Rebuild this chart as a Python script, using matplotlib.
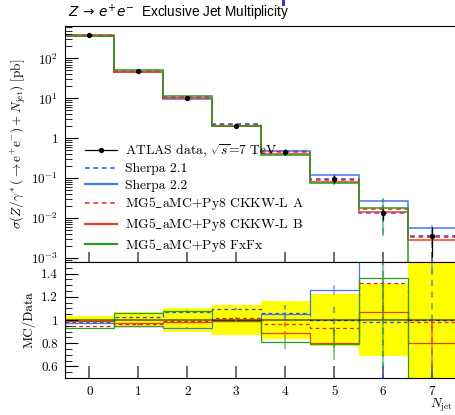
import numpy as np
import matplotlib
matplotlib.use('Agg')
import matplotlib.pyplot as plt
from matplotlib.lines import Line2D

plt.rcParams['font.family'] = ['cmr10', 'DejaVu Serif']
plt.rcParams['mathtext.fontset'] = 'cm'
plt.rcParams['axes.formatter.use_mathtext'] = True
plt.rcParams['axes.unicode_minus'] = False

# bins of exclusive jet multiplicity
edges = np.arange(-0.5, 8.0, 1.0)
njet = np.arange(0, 8)

# ATLAS data [pb] and relative uncertainty band (low, high) as ratio
data = [385.0, 48.0, 10.4, 2.07, 0.46, 0.098, 0.0133, 0.0035]
band_lo = [0.962, 0.928, 0.900, 0.875, 0.835, 0.778, 0.690, 0.30]
band_hi = [1.037, 1.072, 1.100, 1.130, 1.165, 1.225, 1.310, 1.70]

# MC / data ratios
sherpa21 = [0.985, 1.025, 1.065, 1.094, 1.058, 0.998, 0.986, 1.00]
sherpa22 = [0.975, 0.952, 0.935, 0.995, 1.050, 1.258, 2.07, 1.60]
ckkwl_a = [0.946, 0.963, 0.990, 1.017, 0.962, 0.930, 1.315, 0.98]
ckkwl_b = [0.990, 0.975, 0.985, 0.990, 0.888, 0.806, 1.068, 0.80]
fxfx = [0.932, 1.060, 1.074, 1.000, 0.810, 0.797, 1.366, 0.0]

# MC statistical errors (on the ratio)
sherpa21_err = [0.002, 0.003, 0.005, 0.01, 0.07, 0.14, 0.70, 0.50]
sherpa22_err = [0.002, 0.003, 0.005, 0.01, 0.02, 0.04, 0.10, 0.20]
ckkwl_a_err = [0.002, 0.003, 0.005, 0.01, 0.02, 0.05, 0.10, 0.05]
ckkwl_b_err = [0.002, 0.003, 0.005, 0.01, 0.02, 0.05, 0.10, 0.20]
fxfx_err = [0.002, 0.004, 0.008, 0.02, 0.057, 0.14, 0.80, 0.0]

models = [
    ('Sherpa 2.1', sherpa21, sherpa21_err, '#2a4cf5', (0, (3, 2.5))),
    ('Sherpa 2.2', sherpa22, sherpa22_err, '#4675f2', '-'),
    (r'MG5$\_$aMC+Py8 CKKW-L A', ckkwl_a, ckkwl_a_err, '#f02020', (0, (3, 2.5))),
    (r'MG5$\_$aMC+Py8 CKKW-L B', ckkwl_b, ckkwl_b_err, '#f03c1e', '-'),
    ('MG5$\\_$aMC+Py8 FxFx', fxfx, fxfx_err, '#22a022', '-'),
]

data = np.array(data)
W, H = 456, 415
fig = plt.figure(figsize=(W / 100, H / 100), dpi=100)
ax = fig.add_axes([65 / W, 1 - 262 / H, 391.5 / W, 236 / H])
rax = fig.add_axes([65 / W, 1 - 378 / H, 391.5 / W, 116 / H])

# ---- main panel
for label, r, e, c, ls in models:
    vals = np.maximum(np.array(r) * data, 1e-9)
    ax.stairs(vals, edges, color=c, ls=ls, lw=1.1, baseline=None)
    ax.vlines(njet, vals * (1 - np.array(e)), vals * (1 + np.array(e)),
              colors=c, alpha=0.5, lw=1.5, linestyles=ls)

yerr = [data * (1 - np.array(band_lo)), data * (np.array(band_hi) - 1)]
yerr[0] = np.minimum(yerr[0], data * 0.99)
ax.errorbar(njet, data, yerr=yerr, fmt='o', color='k', ms=2.8, lw=0.9, capsize=0, zorder=5)

ax.set_yscale('log')
ax.set_xlim(-0.5, 7.5)
ax.set_ylim(8e-4, 650)
ax.set_yticks([1e-3, 1e-2, 1e-1, 1, 1e1, 1e2])
ax.set_yticklabels([r'$10^{-3}$', r'$10^{-2}$', r'$10^{-1}$', '1', r'$10^{1}$', r'$10^{2}$'])
ax.set_xticks(njet)
ax.set_xticklabels([])
ax.tick_params(axis='y', which='major', direction='in', length=9, width=0.8, labelsize=9.5, pad=5)
ax.tick_params(axis='y', which='minor', direction='in', length=5, width=0.6)
ax.tick_params(axis='x', which='major', direction='in', length=7, width=1.2, color='#555555')
ax.spines['right'].set_visible(False)
ax.set_ylabel(r'$\sigma(Z/\gamma^*(\rightarrow \mathrm{e}^{+}\mathrm{e}^{-}) + N_{\mathrm{jet}})$ [pb]',
              fontsize=9.5, labelpad=2)

handles = [Line2D([], [], color='k', marker='o', ms=2.8, lw=0.9)]
labels = [r'ATLAS data, $\sqrt{s}$=7 TeV']
for label, r, e, c, ls in models:
    handles.append(Line2D([], [], color=c, ls=ls, lw=1.1 if ls != '-' else 1.6))
    labels.append(label)
ax.legend(handles, labels, loc='upper left', bbox_to_anchor=(0.05, 0.505), frameon=False,
          fontsize=9.8, handlelength=2.4, handletextpad=0.6, labelspacing=0.28,
          borderpad=0, borderaxespad=0)

# ---- ratio panel
rax.stairs(band_hi, edges, baseline=band_lo, fill=True, color='#ffff00', lw=0)
rax.axhline(1.0, color='k', alpha=0.5, lw=1.5)
for label, r, e, c, ls in models:
    r = np.array(r)
    rax.stairs(r, edges, color=c, ls=ls, lw=0.9, baseline=None)
    rax.vlines(njet, r - np.array(e), r + np.array(e), colors=c, alpha=0.5, lw=1.5, linestyles=ls)

rax.set_xlim(-0.5, 7.5)
rax.set_ylim(0.5, 1.5)
rax.set_yticks([0.6, 0.8, 1.0, 1.2, 1.4])
rax.set_yticklabels(['0.6', '0.8', '1', '1.2', '1.4'])
rax.set_yticks(np.arange(0.5, 1.5, 0.05), minor=True)
rax.set_xticks(njet)
rax.set_xticklabels([str(n) for n in njet])
rax.tick_params(axis='y', which='major', direction='in', length=9, width=0.8, labelsize=9.5, pad=5)
rax.tick_params(axis='y', which='minor', direction='in', length=5, width=0.6)
rax.tick_params(axis='x', which='major', direction='in', length=9, width=1.2, color='#555555',
                labelsize=9.5, pad=6)
rax.spines['right'].set_visible(False)
rax.set_ylabel('MC/Data', fontsize=9.5, labelpad=4)
rax.set_xlabel(r'$N_{\mathrm{jet}}$', fontsize=9.5, loc='right')
rax.xaxis.set_label_coords(0.99, -0.165)

fig.text(68 / W, 1 - 13 / H, r'$Z\,\rightarrow\,e^{+}e^{-}$  Exclusive Jet Multiplicity',
         family='Liberation Sans', math_fontfamily='dejavusans', fontsize=9.8, va='center')
fig.add_artist(Line2D([283 / W, 283 / W], [1 - 0.5 / H, 1 - 4.5 / H], color='#3a3ad0', lw=2.2))

fig.savefig('out.png', dpi=100)
